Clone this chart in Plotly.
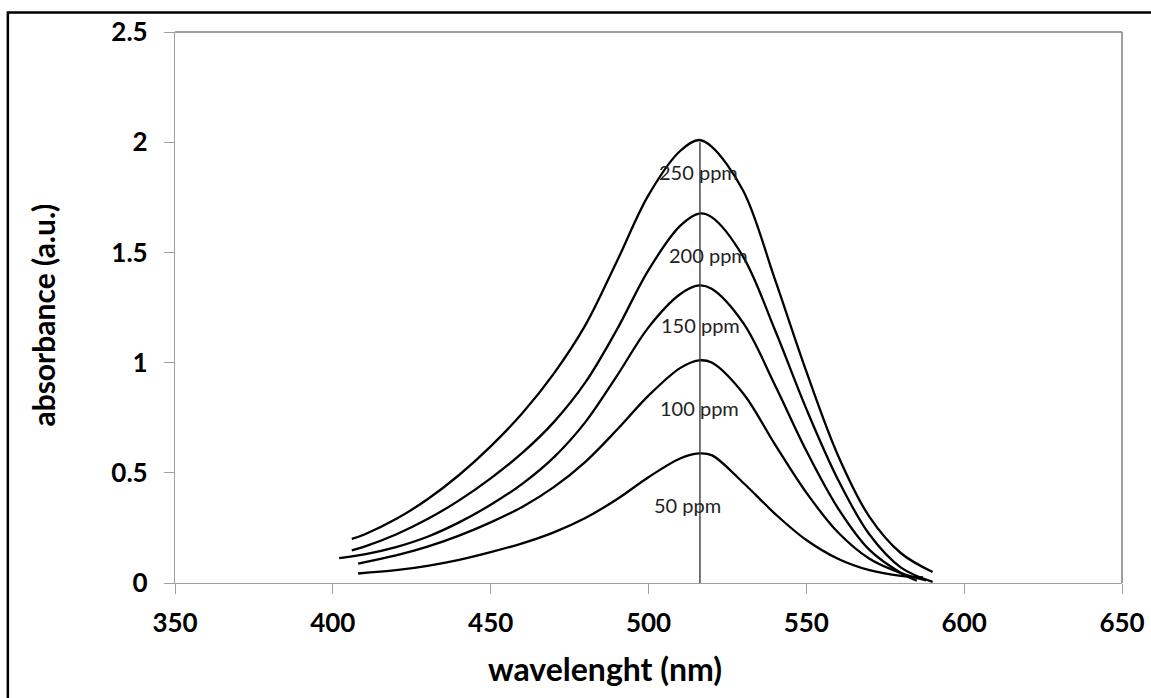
import plotly.graph_objects as go

# ---- data ----
wl_250 = [406, 410, 420, 430, 440, 450, 460, 470, 480, 490, 500, 510, 516, 520, 530, 540, 550, 560, 570, 580, 590]
abs_250 = [0.20, 0.22, 0.29, 0.38, 0.49, 0.62, 0.77, 0.95, 1.17, 1.46, 1.76, 1.96, 2.01, 1.98, 1.78, 1.38, 0.96, 0.58, 0.30, 0.135, 0.05]

wl_200 = [406, 410, 420, 430, 440, 450, 460, 470, 480, 490, 500, 510, 516, 520, 530, 540, 550, 560, 570, 580, 590]
abs_200 = [0.148, 0.165, 0.22, 0.29, 0.375, 0.475, 0.59, 0.73, 0.91, 1.15, 1.42, 1.62, 1.676, 1.66, 1.48, 1.15, 0.79, 0.47, 0.22, 0.07, 0.005]

wl_150 = [402, 410, 420, 430, 440, 450, 460, 470, 480, 490, 500, 510, 516, 520, 530, 540, 550, 560, 570, 580, 585]
abs_150 = [0.113, 0.13, 0.163, 0.21, 0.275, 0.355, 0.45, 0.57, 0.73, 0.94, 1.16, 1.31, 1.35, 1.335, 1.18, 0.90, 0.60, 0.34, 0.15, 0.045, 0.01]

wl_100 = [408, 420, 430, 440, 450, 460, 470, 480, 490, 500, 510, 516, 520, 530, 540, 550, 560, 570, 580, 588]
abs_100 = [0.088, 0.125, 0.165, 0.215, 0.275, 0.345, 0.435, 0.55, 0.695, 0.85, 0.975, 1.01, 1.0, 0.86, 0.63, 0.41, 0.23, 0.11, 0.045, 0.012]

wl_50 = [408, 420, 430, 440, 450, 460, 470, 480, 490, 500, 510, 516, 520, 530, 540, 550, 560, 570, 580, 587]
abs_50 = [0.043, 0.058, 0.078, 0.105, 0.14, 0.18, 0.23, 0.295, 0.38, 0.48, 0.565, 0.588, 0.58, 0.455, 0.315, 0.195, 0.11, 0.058, 0.032, 0.025]

peak_wl = 516.3
peak_line_y = [0, 2.0]

label_texts = ["250 ppm", "200 ppm", "150 ppm", "100 ppm", "50 ppm"]
label_x = [515.8, 519.0, 516.5, 516.3, 512.4]
label_y = [1.865, 1.487, 1.17, 0.796, 0.356]

x_ticks = [350, 400, 450, 500, 550, 600, 650]
y_ticks = [0, 0.5, 1, 1.5, 2, 2.5]

series = [(wl_250, abs_250), (wl_200, abs_200), (wl_150, abs_150), (wl_100, abs_100), (wl_50, abs_50)]

fig = go.Figure()
for (wx, ay), name in zip(series, label_texts):
    fig.add_trace(go.Scatter(x=wx, y=ay, mode="lines", name=name,
                             line=dict(color="black", width=2.3, shape="spline", smoothing=1.0),
                             showlegend=False, hoverinfo="skip"))

fig.add_trace(go.Scatter(x=[peak_wl, peak_wl], y=peak_line_y, mode="lines",
                         line=dict(color="#3a3a3a", width=1.4), showlegend=False, hoverinfo="skip"))

for t, lx, ly in zip(label_texts, label_x, label_y):
    fig.add_annotation(x=lx, y=ly, text=t, showarrow=False, xanchor="center", yanchor="middle",
                       font=dict(family="Lato", size=20, color="#222222"))

# axis titles
fig.add_annotation(xref="paper", yref="paper", x=0.454, y=-0.155, text="<b>wavelenght (nm)</b>",
                   showarrow=False, xanchor="center", yanchor="middle",
                   font=dict(family="Lato", size=32, color="black"))
fig.add_annotation(xref="paper", yref="paper", x=-0.139, y=0.486, text="<b>absorbance (a.u.)</b>",
                   showarrow=False, xanchor="center", yanchor="middle", textangle=-90,
                   font=dict(family="Lato", size=30, color="black"))

# top / right plot border
fig.add_shape(type="line", xref="paper", yref="paper", x0=0, x1=1, y0=1, y1=1,
              line=dict(color="#7f7f7f", width=1.5))
fig.add_shape(type="line", xref="paper", yref="paper", x0=1, x1=1, y0=0, y1=1,
              line=dict(color="#7f7f7f", width=1.5))
# outer frame
fig.add_shape(type="rect", xref="paper", yref="paper", x0=-0.1765, x1=1.2, y0=-0.5, y1=1.0355,
              line=dict(color="black", width=2.5), fillcolor="rgba(0,0,0,0)")

fig.update_xaxes(range=[350, 650], tickvals=x_ticks, ticks="outside", ticklen=10, tickwidth=1.3,
                 tickcolor="#a0a0a0", showline=True, linecolor="#a0a0a0", linewidth=1.3,
                 showgrid=False, zeroline=False, automargin=False, ticklabelstandoff=7,
                 tickfont=dict(family="Lato", size=26, color="black", weight="bold"))
fig.update_yaxes(range=[0, 2.5], tickvals=y_ticks, ticks="outside", ticklen=10, tickwidth=1.3,
                 tickcolor="#a0a0a0", showline=True, linecolor="#a0a0a0", linewidth=1.3,
                 showgrid=False, zeroline=False, automargin=False, ticklabelstandoff=11,
                 tickfont=dict(family="Lato", size=26, color="black", weight="bold"))

fig.update_layout(width=1151, height=698, margin=dict(l=175, r=29, t=32, b=115),
                  paper_bgcolor="white", plot_bgcolor="white")

fig.write_html("out.html")
